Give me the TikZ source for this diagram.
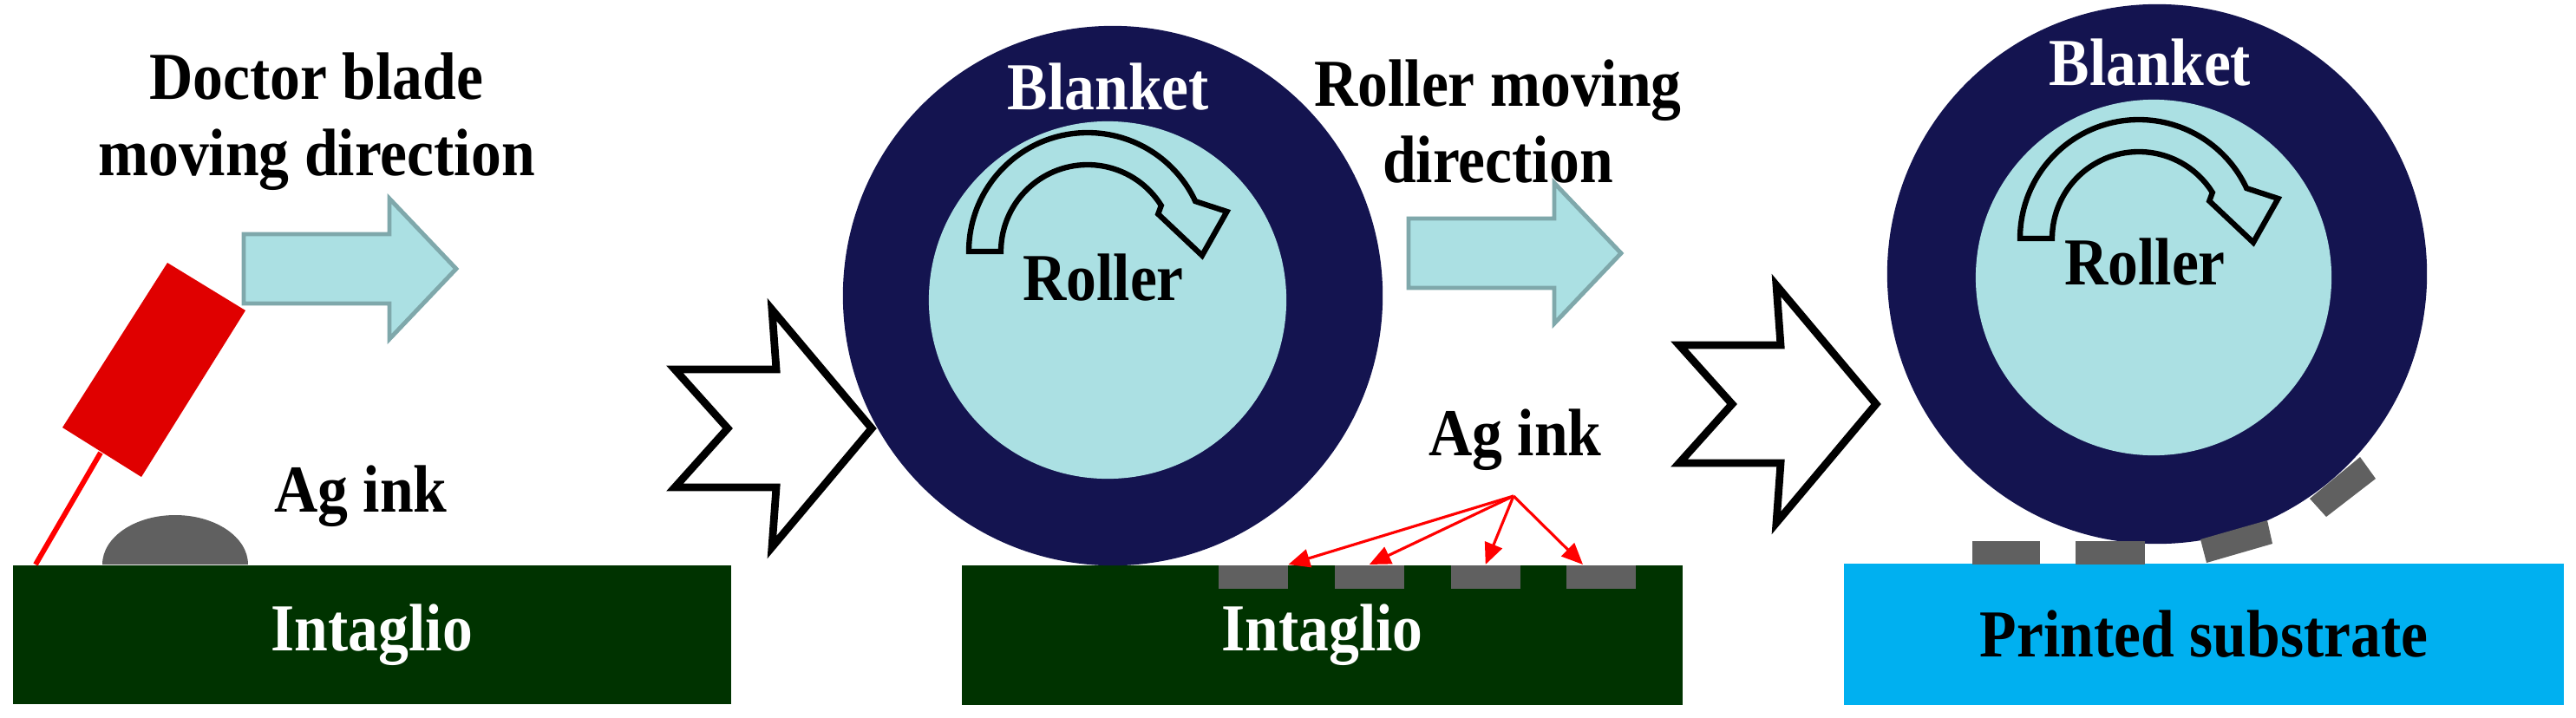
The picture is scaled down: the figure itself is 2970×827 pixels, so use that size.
\documentclass[tikz,border=0pt]{standalone}
\usepackage{fontspec}
\setmainfont{Liberation Serif}[FakeStretch=0.9]
\usetikzlibrary{arrows.meta}
\usetikzlibrary{calc}
\definecolor{navy}{HTML}{141450}
\definecolor{rollcyan}{HTML}{ABE0E3}
\definecolor{arrline}{HTML}{7FA8AB}
\definecolor{intag}{HTML}{003300}
\definecolor{subst}{HTML}{00B0F0}
\definecolor{inkgray}{HTML}{606060}
\definecolor{bladered}{HTML}{E00000}

\tikzset{
  lbl/.style={font=\fontsize{22}{25}\selectfont\bfseries, align=center},
  pad/.style={fill=inkgray, draw=none, minimum width=0.8cm, minimum height=0.27cm, inner sep=0},
  dirarr/.style={fill=rollcyan, draw=arrline, line width=1.4pt},
  stepper/.style={fill=white, draw=black, line width=2.5pt, line join=miter},
  rotarr/.style={fill=rollcyan, draw=black, line width=1.8pt},
  inkarr/.style={red, line width=0.9pt, -{Triangle[length=7pt,width=6pt]}}
}

% light blue moving-direction arrow, (#1,#2) = left end of body centre
\newcommand{\movearrow}[2]{%
  \draw[dirarr, shift={(#1,#2)}] (0,-40) -- (168,-40) -- (168,-81) -- (245,0)
    -- (168,81) -- (168,40) -- (0,40) -- cycle;}
% white notched step arrow, (#1,#2) = tip
\newcommand{\steparrow}[2]{%
  \draw[stepper, shift={(#1,#2)}] (0,0) -- (-115,-137) -- (-110,-68) -- (-227,-68)
    -- (-166,0) -- (-227,68) -- (-110,68) -- (-115,137) -- cycle;}
% curved rotation arrow inside the roller
\newcommand{\rollarrow}[2]{%
  \draw[rotarr, shift={(#1,#2)}] (180:137) arc[start angle=180, end angle=335, radius=137]
    -- (344:167) -- (2:132) -- (332:92) -- (328:100)
    arc[start angle=328, end angle=180, radius=100] -- cycle;}

\begin{document}
\begin{tikzpicture}[x=0.01cm, y=-0.01cm]
\useasboundingbox (0,0) rectangle (2970,827);

%% step 1: doctor blade on intaglio
\node[fill=intag, minimum width=8.28cm, minimum height=1.6cm, inner sep=0, anchor=north west,
  text=white, lbl] (intag1) at (14,651) {Intaglio};
\fill[inkgray] (118,651) arc[start angle=180, end angle=360, x radius=84, y radius=57] -- cycle;
\coordinate (bladetip) at (41,651);
\coordinate (bladefoot) at (116,522);
\draw[red, line width=1.7pt] (bladetip) -- (bladefoot);
\fill[bladered] (193,303) -- (283,358) -- (163,550) -- (72,493) -- cycle;
\node[lbl] (ink1) at (416,572) {Ag ink};
\movearrow{281}{310}
\node[lbl] (doctor) at (365,140) {Doctor blade\\moving direction};

\steparrow{1005}{494}

%% step 2: blanket picks up ink
\node[fill=intag, minimum width=8.31cm, minimum height=1.61cm, inner sep=0, anchor=north west,
  text=white, lbl] (intag2) at (1108,651) {\raisebox{-12pt}{Intaglio}};
\node[circle, fill=navy, minimum size=6.22cm, inner sep=0] (blanket2) at (1283,341) {};
\node[circle, fill=rollcyan, minimum size=4.12cm, inner sep=0] (roller2) at (1277,346) {};
\rollarrow{1254}{290}
\node[lbl, text=white] (blanktxt2) at (1278,100) {Blanket};
\node[lbl] (rolltxt2) at (1272,320) {Roller};
\foreach \n/\x in {1/1404, 2/1538, 3/1672, 4/1805}
  \node[pad, anchor=north west] (pad\n) at (\x,651) {};
\node[lbl] (ink2) at (1747,507) {Ag ink};
\coordinate (inkroot) at (1745,572);
\draw[inkarr] (inkroot) -- (pad1.north east);
\draw[inkarr] (inkroot) -- (pad2.north);
\draw[inkarr] (inkroot) -- (pad3.north);
\draw[inkarr] (inkroot) -- ([xshift=0.2cm]pad4.north west);
\movearrow{1624}{292}
\node[lbl] (roller) at (1727,140) {Roller moving\\direction};

\steparrow{2163}{466}

%% step 3: transfer to substrate
\node[fill=subst, minimum width=8.3cm, minimum height=1.63cm, inner sep=0, anchor=north west,
  lbl] (substr) at (2125,649) {Printed substrate};
\node[circle, fill=navy, minimum size=6.22cm, inner sep=0] (blanket3) at (2487,316) {};
\node[circle, fill=rollcyan, minimum size=4.1cm, inner sep=0] (roller3) at (2483,320) {};
\rollarrow{2466}{275}
\node[lbl, text=white] (blanktxt3) at (2479,72) {Blanket};
\node[lbl] (rolltxt3) at (2473,302) {Roller};
\fill[inkgray] (2274,624) rectangle (2352,651);
\fill[inkgray] (2393,624) rectangle (2473,651);
\fill[inkgray] (2537,622) -- (2614,600) -- (2620,627) -- (2544,649) -- cycle;
\fill[inkgray] (2663,575) -- (2721,527) -- (2739,552) -- (2682,596) -- cycle;

\end{tikzpicture}
\end{document}
